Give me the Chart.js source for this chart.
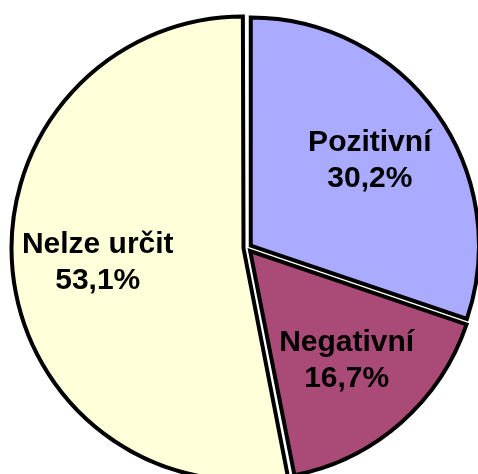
<!DOCTYPE html>
<html>
<head>
<meta charset="utf-8">
<script src="https://cdn.jsdelivr.net/npm/chart.js@4/dist/chart.umd.min.js"></script>
<style>
  html, body { margin: 0; padding: 0; background: #fff; }
  #wrap { width: 478px; height: 474px; }
</style>
</head>
<body>
<div id="wrap"><canvas id="graf"></canvas></div>
<script>
// Datos del gráfico
const kategorie = ['Pozitivní', 'Negativní', 'Nelze určit'];
const hodnoty = [30.2, 16.7, 53.1];
const barvy = ['#aaaaff', '#aa4a76', '#ffffda'];

// Etiquetas dentro de cada porción
const popiskyPlugin = {
  id: 'popisky',
  afterDatasetsDraw(chart) {
    const ctx = chart.ctx;
    const meta = chart.getDatasetMeta(0);
    ctx.save();
    ctx.font = 'bold 30px "Liberation Sans", Arial, sans-serif';
    ctx.fillStyle = '#000';
    ctx.textAlign = 'center';
    ctx.textBaseline = 'middle';
    meta.data.forEach((arc, i) => {
      const p = arc.getProps(['x', 'y', 'startAngle', 'endAngle', 'outerRadius'], true);
      const uhel = (p.startAngle + p.endAngle) / 2;
      const r = p.outerRadius * 0.66;
      const x = p.x + Math.cos(uhel) * r;
      const y = p.y + Math.sin(uhel) * r;
      ctx.fillText(kategorie[i], x, y - 18);
      ctx.fillText(hodnoty[i].toFixed(1).replace('.', ',') + '%', x, y + 18);
    });
    ctx.restore();
  }
};

new Chart(document.getElementById('graf'), {
  type: 'pie',
  data: {
    labels: kategorie,
    datasets: [{
      data: hodnoty,
      backgroundColor: barvy,
      borderColor: '#000',
      borderWidth: 4,
      borderJoinStyle: 'miter',
      offset: 16, // chart.js lo divide entre 4 al dibujar
      clip: false
    }]
  },
  options: {
    responsive: true,
    maintainAspectRatio: false,
    animation: false,
    radius: 228,
    layout: { padding: { left: 17, top: 22, right: 0, bottom: 0 } },
    plugins: {
      legend: { display: false },
      tooltip: { enabled: false }
    }
  },
  plugins: [popiskyPlugin]
});
</script>
</body>
</html>
